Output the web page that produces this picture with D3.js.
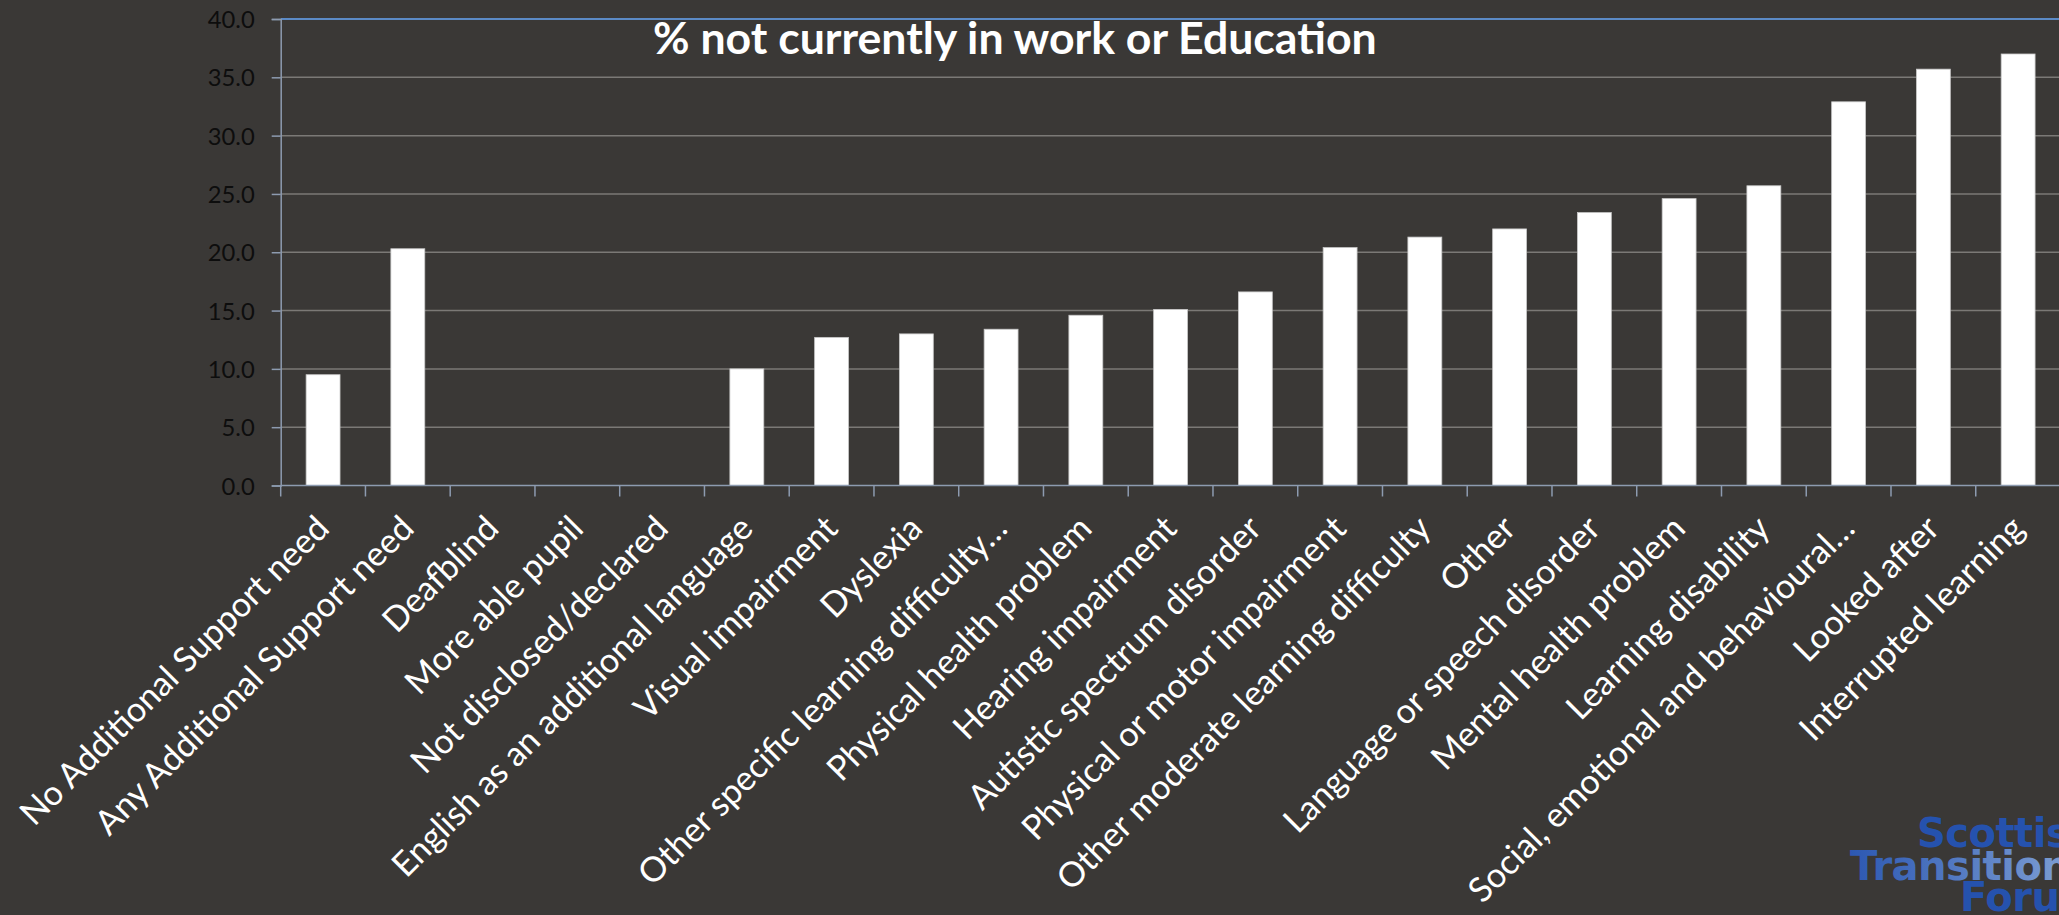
<!DOCTYPE html>
<html>
<head>
<meta charset="utf-8">
<script src="https://cdn.jsdelivr.net/npm/d3@7"></script>
<style>
    html, body { margin: 0; padding: 0; background: #3a3836; overflow: hidden; }
    svg { display: block; }
</style>
</head>
<body>
<script>
// kategorie (poradi jako v grafu)
let categories = [
    "No Additional Support need",
    "Any Additional Support need",
    "Deafblind",
    "More able pupil",
    "Not disclosed/declared",
    "English as an additional language",
    "Visual impairment",
    "Dyslexia",
    "Other specific learning difficulty…",
    "Physical health problem",
    "Hearing impairment",
    "Autistic spectrum disorder",
    "Physical or motor impairment",
    "Other moderate learning difficulty",
    "Other",
    "Language or speech disorder",
    "Mental health problem",
    "Learning disability",
    "Social, emotional and behavioural…",
    "Looked after",
    "Interrupted learning"
]

// % not currently in work or education
let values = [9.5, 20.3, 0, 0, 0, 10.0, 12.7, 13.0, 13.4, 14.6, 15.1, 16.6, 20.4, 21.3, 22.0, 23.4, 24.6, 25.7, 32.9, 35.7, 37.0]

let yTicks = [0, 5, 10, 15, 20, 25, 30, 35, 40]

let title = "% not currently in work or Education"
let logoLines = ["Scottish", "Transition", "Forum"]

draw()

function draw() {
    let w = 2059
    let h = 915
    let m = { left: 280.7, right: 2060.5, top: 19, bottom: 485.5 }

    let cvs = setCanvas(w, h)

    let x = d3.scaleBand()
        .domain(categories)
        .range([m.left, m.right])
        .padding(0)
    let y = d3.scaleLinear()
        .domain([0, 40])
        .range([m.bottom, m.top])

    // mrizka
    cvs.append("g")
        .selectAll("line")
        .data(yTicks.filter(d => d > 0 && d < 40))
        .enter()
        .append("line")
            .attr("x1", m.left)
            .attr("x2", w)
            .attr("y1", d => y(d))
            .attr("y2", d => y(d))
            .style("stroke", "#7b7976")
            .style("stroke-width", 1.5)

    // horni okraj plochy
    cvs.append("line")
        .attr("x1", m.left)
        .attr("x2", w)
        .attr("y1", y(40))
        .attr("y2", y(40))
        .style("stroke", "#5b8ac6")
        .style("stroke-width", 2)

    // sloupce
    let bw = x.bandwidth() * 0.4
    cvs.append("g")
        .selectAll("rect")
        .data(values)
        .enter()
        .append("rect")
            .attr("x", (d, i) => x(categories[i]) + (x.bandwidth() - bw) / 2)
            .attr("y", d => y(d))
            .attr("width", bw)
            .attr("height", d => y(0) - y(d))
            .style("fill", "#ffffff")
            .style("stroke", d => d > 0 ? "#c8c8c8" : "none")
            .style("stroke-width", 0.8)

    // osa y
    let yAxis = cvs.append("g")
        .attr("transform", `translate(${m.left},0)`)
        .call(d3.axisLeft(y).tickValues(yTicks).tickFormat(d3.format(".1f")).tickSize(9).tickPadding(17))
    yAxis.select(".domain").style("stroke", "#8d9bb0").style("stroke-width", 1.5)
    yAxis.selectAll(".tick line").style("stroke", "#8d9bb0").style("stroke-width", 1.5)
    yAxis.selectAll("text")
        .style("font-family", "Lato, 'Open Sans', sans-serif")
        .style("fill", "#0d0d0d")
        .attr("dy", "0.36em")
    fitFont(yAxis.selectAll("text").filter(d => d === 40), 47, yAxis.selectAll("text"))

    // osa x
    let xAxis = cvs.append("g")
        .attr("transform", `translate(0,${m.bottom})`)
    xAxis.append("line")
        .attr("x1", m.left)
        .attr("x2", w)
        .style("stroke", "#8d9bb0")
        .style("stroke-width", 1.5)
    xAxis.selectAll("ticks")
        .data(d3.range(categories.length + 1))
        .enter()
        .append("line")
            .attr("x1", i => m.left + i * x.step())
            .attr("x2", i => m.left + i * x.step())
            .attr("y1", 0)
            .attr("y2", 11)
            .style("stroke", "#8d9bb0")
            .style("stroke-width", 1.5)

    let labels = cvs.append("g").selectAll("labels")
        .data(categories)
        .enter()
        .append("text")
            .text(d => d)
            .attr("text-anchor", "end")
            .attr("transform", d => `translate(${x(d) + x.bandwidth() / 2 + 8},${m.bottom + 45}) rotate(-45)`)
            .style("font-family", "Lato, 'Open Sans', sans-serif")
            .style("fill", "#ffffff")
    fitFont(labels.filter(d => d === categories[0]), 420, labels)

    // titulek
    let t = cvs.append("text")
        .text(title)
        .attr("x", 653)
        .attr("y", 54)
        .style("font-family", "Lato, 'Open Sans', sans-serif")
        .style("font-weight", "bold")
        .style("fill", "#ffffff")
    fitFont(t, 724, t)

    // logo vpravo dole (oriznute okrajem)
    let grad = cvs.append("defs").append("linearGradient")
        .attr("id", "logoGrad")
        .attr("x1", "0%").attr("x2", "100%")
    grad.append("stop").attr("offset", "0%").attr("stop-color", "#2c58b2")
    grad.append("stop").attr("offset", "100%").attr("stop-color", "#7d9ed3")
    let logoPos = [[1917, 847], [1850, 880], [1960, 911]]
    cvs.append("g").selectAll("logo")
        .data(logoLines)
        .enter()
        .append("text")
            .text(d => d)
            .attr("x", (d, i) => logoPos[i][0])
            .attr("y", (d, i) => logoPos[i][1])
            .style("font-family", "'DejaVu Sans', sans-serif")
            .style("font-weight", "bold")
            .style("font-size", "40px")
            .style("letter-spacing", "-0.5px")
            .style("fill", (d, i) => i === 1 ? "url(#logoGrad)" : "#2552ae")
}

// nastavi velikost pisma tak, aby vzorovy text mel danou delku
function fitFont(sample, target, all) {
    sample.style("font-size", "100px")
    let len = sample.node().getComputedTextLength()
    let size = 100 * target / len
    all.style("font-size", size + "px")
}

function setCanvas(w, h) {
    return d3.select("body")
        .append("svg")
            .attr("width", w)
            .attr("height", h)
            .style("background", "#3a3836")
}
</script>
</body>
</html>
